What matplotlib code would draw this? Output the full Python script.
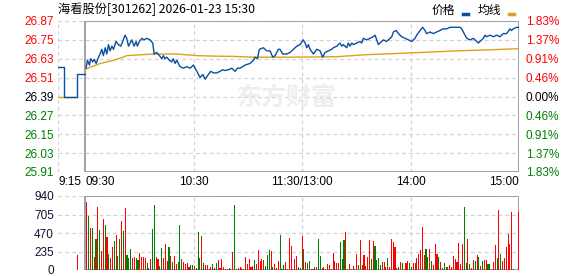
import numpy as np
import matplotlib
matplotlib.use('Agg')
import matplotlib.pyplot as plt
from matplotlib.lines import Line2D

plt.rcParams['font.family'] = ['Liberation Sans', 'Noto Sans CJK SC']

# --- data ---
title = '海看股份[301262] 2026-01-23 15:30'
prev_close = 26.39
price_ticks = [26.87, 26.75, 26.63, 26.51, 26.39, 26.27, 26.15, 26.03, 25.91]
pct_labels = ['1.83%', '1.37%', '0.91%', '0.46%', '0.00%', '0.46%', '0.91%', '1.37%', '1.83%']
vol_ticks = [0, 235, 470, 705, 940]
time_pos = [-15, 0, 60, 120, 180, 240]   # minutes from 09:30, lunch break removed
time_labels = ['9:15', '09:30', '10:30', '11:30/13:00', '14:00', '15:00']

# pre-market (call auction) price, step line
pre_t = [-15, -11.6, -4.4, 0]
pre_p = [26.58, 26.39, 26.53, 26.53]
pre_avg_t = [-15, -4.4]
pre_avg_p = [26.39, 26.39]
pre_vol_t = [-4]
pre_vol = [190]

# intraday price (minute, price)
t_price = [0.5, 1.3, 2.4, 3.1, 4.2, 5.0, 6.1, 7.4, 8.3, 9.2, 10.1, 11.1, 12.0, 12.9, 13.8, 14.8,
           15.7, 17.1, 18.4, 19.7, 20.8, 22.1, 23.0, 24.0, 24.9, 25.8, 27.1, 28.2, 28.9, 30.0,
           31.4, 32.6, 34.1, 35.9, 37.4, 38.2, 39.6, 41.1, 42.4, 43.3, 44.2, 45.2, 46.6, 47.9,
           48.8, 49.8, 50.7, 52.5, 54.4, 56.2, 58.1, 59.9, 61.8, 63.6, 65.1, 66.4, 68.2, 69.5,
           71.0, 72.8, 74.7, 76.1, 77.4, 79.3, 81.1, 83.0, 84.2, 85.7, 88.5, 91.2, 93.1, 94.0,
           95.3, 96.4, 98.6, 100.5, 102.3, 103.8, 105.1, 106.9, 107.8, 109.3, 111.5, 113.4,
           115.2, 117.1, 118.9, 120.7, 121.7, 122.6, 123.5, 124.4, 126.3, 128.1, 130.0, 131.4,
           132.7, 134.6, 136.4, 137.3, 139.2, 141.0, 142.0, 142.8, 144.7, 145.6, 146.5, 147.5,
           148.4, 150.2, 152.1, 153.0, 153.9, 155.8, 157.6, 159.4, 160.4, 161.3, 162.2, 163.1,
           165.0, 166.8, 168.7, 169.6, 170.5, 172.0, 173.3, 175.1, 177.0, 178.8, 180.7, 182.5,
           183.4, 185.3, 186.7, 188.0, 188.9, 190.8, 192.6, 194.5, 196.3, 198.1, 200.0, 201.8,
           204.6, 207.4, 208.3, 209.2, 211.1, 212.9, 214.8, 216.6, 217.5, 218.4, 220.3, 221.2,
           222.1, 224.0, 225.8, 227.7, 229.5, 231.3, 233.2, 235.0, 235.9, 236.8, 238.7, 240.0]
price = [26.57, 26.62, 26.59, 26.63, 26.61, 26.626, 26.60, 26.64, 26.66, 26.69, 26.65, 26.70,
         26.66, 26.72, 26.68, 26.71, 26.69, 26.74, 26.72, 26.71, 26.74, 26.78, 26.76, 26.71,
         26.73, 26.75, 26.71, 26.74, 26.71, 26.74, 26.76, 26.75, 26.76, 26.75, 26.73, 26.66,
         26.67, 26.65, 26.63, 26.65, 26.63, 26.64, 26.62, 26.61, 26.63, 26.60, 26.62, 26.58,
         26.57, 26.58, 26.57, 26.59, 26.55, 26.51, 26.53, 26.50, 26.53, 26.55, 26.54, 26.54,
         26.55, 26.56, 26.555, 26.56, 26.57, 26.55, 26.57, 26.57, 26.59, 26.60, 26.62, 26.64,
         26.63, 26.69, 26.70, 26.68, 26.68, 26.64, 26.65, 26.69, 26.69, 26.66, 26.66, 26.67,
         26.69, 26.71, 26.72, 26.75, 26.73, 26.70, 26.72, 26.69, 26.66, 26.69, 26.68, 26.64,
         26.67, 26.68, 26.69, 26.70, 26.71, 26.73, 26.71, 26.72, 26.70, 26.73, 26.71, 26.73,
         26.72, 26.73, 26.74, 26.73, 26.76, 26.75, 26.76, 26.77, 26.78, 26.75, 26.72, 26.73,
         26.75, 26.74, 26.76, 26.77, 26.80, 26.81, 26.79, 26.77, 26.76, 26.75, 26.74, 26.76,
         26.78, 26.81, 26.83, 26.81, 26.79, 26.80, 26.79, 26.80, 26.81, 26.82, 26.82, 26.83,
         26.83, 26.83, 26.82, 26.80, 26.76, 26.75, 26.76, 26.74, 26.73, 26.74, 26.76, 26.78,
         26.77, 26.78, 26.77, 26.78, 26.77, 26.79, 26.79, 26.82, 26.81, 26.82, 26.83, 26.83]

# average price line
t_avg = [0.5, 8.3, 15.7, 21.0, 23.0, 30.4, 37.6, 50.7, 61.8, 70.8, 81.8, 92.9, 113.4, 139.2,
         155.8, 177.9, 205.6, 224.0, 240.0]
avg = [26.565, 26.60, 26.62, 26.64, 26.65, 26.655, 26.66, 26.66, 26.65, 26.647, 26.645, 26.64,
       26.64, 26.643, 26.656, 26.666, 26.68, 26.687, 26.694]

# volume per minute, r = up, g = down
volume = [863, 685, 533, 533, 161, 393, 800, 508, 241, 647, 571, 419, 203, 152, 292, 368, 444, 178,
          393, 622, 495, 787, 190, 152, 266, 152, 165, 152, 127, 216, 165, 165, 152, 89, 25, 140,
          520, 825, 165, 140, 51, 279, 152, 330, 114, 292, 178, 102, 178, 76, 102, 571, 140, 102,
          76, 89, 38, 63, 63,
          51, 25, 482, 152, 431, 89, 63, 63, 13, 38, 76, 25, 89, 127, 25, 140, 38, 13, 13, 25, 13,
          228, 825, 13, 25, 38, 25, 13, 165, 76, 140, 38, 51, 127, 76, 254, 114, 140, 127, 51, 190,
          254, 241, 38, 76, 25, 114, 444, 13, 63, 102, 13, 406, 305, 13, 140, 178, 38, 25, 431,
          266, 102, 89, 114, 13, 13, 38, 38, 393, 178, 25, 38, 13, 76, 63, 13, 216, 114, 89, 89,
          355, 140, 381, 482, 13, 76, 13, 51, 13, 203, 63, 381, 63, 190, 51, 165, 381, 140, 368,
          305, 127, 152, 63, 102, 102, 38, 152, 38, 393, 355, 292, 25, 38, 102, 89, 13, 89, 114, 89,
          38, 89, 89, 152, 203, 254, 546, 190, 266, 165, 266, 114, 63, 330, 203, 165, 102, 25, 89,
          38, 38, 63, 38, 178, 140, 102, 343, 76, 330, 800, 89, 393, 76, 25, 127, 114, 190, 165,
          51, 114, 127, 127, 76, 76, 13, 102, 317, 152, 762, 203, 114, 152, 292, 457, 330, 736, 13,
          0, 0, 736]
direction = ('rgrgrgrgrrgrgrrgrggrgrgggrrggrrrrggrggrrggrrrgrgrrgggrrrrgg'
             'rgggrgrrrrgrgrrrrrrrgrgrrrrgrrrrrgrrrrrgggrgrrrgggrrrrrrrggr'
             'grggrrgrggrrgrrrrrrrgggrgrgrgrgrgrrrrgrggggrrrgrrrrrgrggrrgg'
             'rrrrrrrggrgrrrgrgggrrrrrrrrrggrgrrgrgrgrrggrrrgrgrrrrrrgrrr')

fig = plt.figure(figsize=(5.78, 2.76), dpi=100)
ax = fig.add_axes([58/578, 1-172/276, 461/578, 151/276])
axv = fig.add_axes([58/578, 1-270/276, 461/578, 74/276])

frame = '#999999'
grid_c = '#d2d2d2'
dash = (0, (3, 2.5))
red, green, black = '#ff0000', '#008000', '#000000'

# ---------- price panel ----------
ax.set_xlim(-15, 240)
ax.set_ylim(price_ticks[-1], price_ticks[0])
for s in ax.spines.values():
  s.set_visible(False)
for p in price_ticks:
  ax.axhline(p, color=grid_c, lw=0.9, ls=dash, zorder=0)
for t in [-15, 60, 120, 180]:
  ax.axvline(t, color=grid_c, lw=0.9, ls=dash, zorder=0)
ax.axvline(0, color=frame, lw=1.3)
ax.axvline(240, color=frame, lw=1.3)
ax.axhline(price_ticks[0], xmin=15/255, color=frame, lw=1.3)
ax.axhline(price_ticks[-1], xmin=15/255, color=frame, lw=1.3)

fig.text(237/578, 1-98/276, '东方财富', fontsize=18, fontweight='bold', color='#eeeeee',
         family=['Noto Sans CJK SC'], va='center', ha='left', zorder=0, style='italic')

ax.plot(pre_avg_t, pre_avg_p, color='#dba21c', lw=1.0)
ax.plot(pre_t, pre_p, color='#0b4fa0', lw=1.0, drawstyle='steps-post')
ax.plot(t_avg, avg, color='#dba21c', lw=1.0)
ax.plot(t_price, price, color='#0b4fa0', lw=1.0)

ax.set_yticks(price_ticks)
ax.set_yticklabels(['%.2f' % p for p in price_ticks], fontsize=8.5)
ax.tick_params(axis='y', length=0, pad=3)
for lab, p in zip(ax.get_yticklabels(), price_ticks):
  lab.set_color(red if p > prev_close + 1e-9 else (green if p < prev_close - 1e-9 else black))

ax.set_xticks(time_pos)
ax.set_xticklabels(time_labels, fontsize=8.5)
ax.tick_params(axis='x', length=0, pad=3)
for lab, ha in zip(ax.get_xticklabels(), ['left', 'left', 'center', 'center', 'center', 'right']):
  lab.set_horizontalalignment(ha)

ax2 = ax.twinx()
ax2.set_ylim(ax.get_ylim())
for s in ax2.spines.values():
  s.set_visible(False)
ax2.set_yticks(price_ticks)
ax2.set_yticklabels(pct_labels, fontsize=8.5)
ax2.tick_params(axis='y', length=0, pad=5)
for lab, p in zip(ax2.get_yticklabels(), price_ticks):
  lab.set_color(red if p > prev_close + 1e-9 else (green if p < prev_close - 1e-9 else black))

# title + legend
fig.text(58/578, 1-9/276, title, fontsize=8.8, va='center', ha='left', family=['Noto Sans CJK SC'])
fig.text(432/578, 1-10/276, '价格', fontsize=8.5, va='center', ha='left', family=['Noto Sans CJK SC'])
fig.text(478/578, 1-10/276, '均线', fontsize=8.5, va='center', ha='left', family=['Noto Sans CJK SC'])
fig.add_artist(Line2D([463/578, 468/578], [1-14/276, 1-14/276], color='#0b4fa0', lw=2.5))
fig.add_artist(Line2D([509/578, 514/578], [1-14/276, 1-14/276], color='#dba21c', lw=2.5))

# ---------- volume panel ----------
axv.set_xlim(-15, 240)
axv.set_ylim(0, 940)
for s in axv.spines.values():
  s.set_visible(False)
for v in vol_ticks:
  axv.axhline(v, color=grid_c, lw=0.9, ls=dash, zorder=0)
for t in [60, 120, 180]:
  axv.axvline(t, color=grid_c, lw=0.9, ls=dash, zorder=0)
axv.axvline(0, color=frame, lw=1.3)
axv.axvline(240, color=frame, lw=1.3)
axv.axhline(940, xmin=15/255, color=frame, lw=1.3)
axv.axhline(0, xmin=15/255, color=frame, lw=1.3)

t_vol = np.linspace(1, 240, len(volume))
cols = [red if d == 'r' else green for d in direction]
axv.bar(t_vol, volume, width=0.6, color=cols, zorder=2)
axv.bar(pre_vol_t, pre_vol, width=0.6, color=red, zorder=2)

axv.set_yticks(vol_ticks)
axv.set_yticklabels([str(v) for v in vol_ticks], fontsize=8.5, color='#111133')
axv.tick_params(axis='y', length=0, pad=3)
axv.set_xticks([])

plt.savefig('out.png', dpi=100)
